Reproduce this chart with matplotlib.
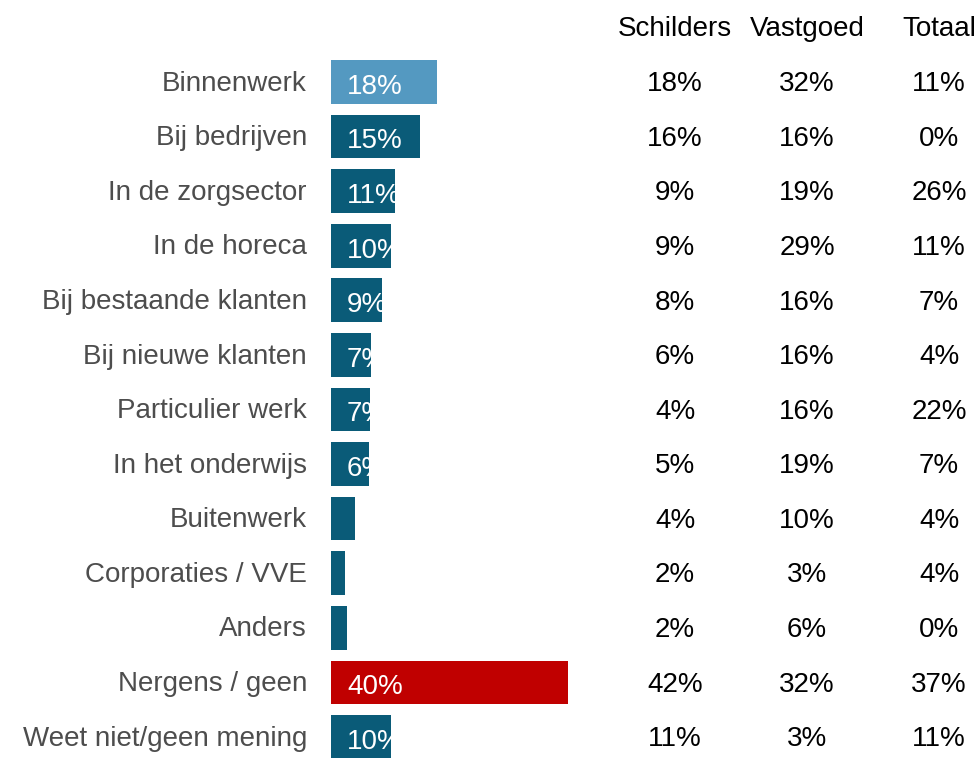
import matplotlib.pyplot as plt
from matplotlib.transforms import blended_transform_factory

plt.rcParams['font.family'] = ['Liberation Sans', 'DejaVu Sans']

categories = ["Binnenwerk", "Bij bedrijven", "In de zorgsector", "In de horeca",
              "Bij bestaande klanten", "Bij nieuwe klanten", "Particulier werk",
              "In het onderwijs", "Buitenwerk", "Corporaties / VVE", "Anders",
              "Nergens / geen", "Weet niet/geen mening"]
# bar lengths in percent
values = [17.9, 15.0, 10.8, 10.1, 8.6, 6.7, 6.6, 6.4, 4.0, 2.4, 2.7, 40.0, 10.1]
schilders = ["18%", "16%", "9%", "9%", "8%", "6%", "4%", "5%", "4%", "2%", "2%", "42%", "11%"]
vastgoed = ["32%", "16%", "19%", "29%", "16%", "16%", "16%", "19%", "10%", "3%", "6%", "32%", "3%"]
totaal = ["11%", "0%", "26%", "11%", "7%", "4%", "22%", "7%", "4%", "4%", "0%", "37%", "11%"]
columns = ["Schilders", "Vastgoed", "Totaal"]

W, H = 980, 758
fig = plt.figure(figsize=(W / 100, H / 100), dpi=100)
ax = fig.add_axes([331 / W, 0, 237 / W, 1])
ax.axis('off')

colors = []
for i, c in enumerate(categories):
    if i == 0:
        colors.append('#5499c1')
    elif c == "Nergens / geen":
        colors.append('#c00000')
    else:
        colors.append('#0a5b78')

ypos = list(range(len(categories)))
bars = ax.barh(ypos, values, height=0.8, color=colors)
ax.set_xlim(0, 40)
step = 54.58
ax.set_ylim((H - 82) / step, -82 / step)

fs = 20
for y, v, b in zip(ypos, values, bars):
    if v < 5:
        continue
    t = ax.annotate(f"{round(v)}%", xy=(0, y), xytext=(11.5, -3.5),
                    textcoords='offset points', ha='left', va='center',
                    color='white', fontsize=fs)
    t.set_clip_path(b)

tr = blended_transform_factory(fig.transFigure, ax.transData)
for y, c in zip(ypos, categories):
    ax.text(307 / W, y + 0.03, c, transform=tr, ha='right', va='center',
            fontsize=fs, color='#4d4d4d')

col_x = [675, 807, 939]
for x, name, col in zip(col_x, columns, [schilders, vastgoed, totaal]):
    fig.text(x / W, 1 - 29 / H, name, ha='center', va='center', fontsize=fs, color='black')
    for y, s in zip(ypos, col):
        ax.text(x / W, y + 0.04, s, transform=tr, ha='center', va='center',
                fontsize=fs, color='black')

fig.savefig("out.png", dpi=100)
